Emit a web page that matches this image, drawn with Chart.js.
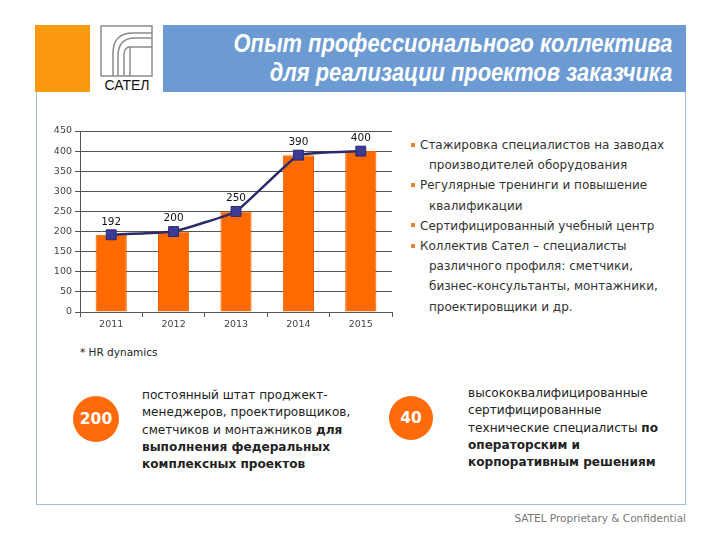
<!DOCTYPE html>
<html>
<head>
<meta charset="utf-8">
<script src="https://cdn.jsdelivr.net/npm/chart.js@4.4.0/dist/chart.umd.min.js"></script>
<style>
  body { margin: 0; width: 720px; height: 540px; background: #fff; position: relative; overflow: hidden; font-family: "DejaVu Sans", Verdana, sans-serif; }
  .abs { position: absolute; }
  #orange { left: 35px; top: 25px; width: 55px; height: 67px; background: #FB9A0E; }
  #band { left: 163px; top: 25px; width: 523px; height: 67px; background: #6B9BD2; }
  #title { right: 48px; top: 29px; text-align: right; color: #fff; font: italic bold 26px/29px "Liberation Sans", sans-serif; white-space: nowrap; transform: scaleX(0.84); transform-origin: right center; }
  #frame { left: 36px; top: 92px; width: 648px; height: 412px; border: 1.5px solid #A3BBE3; border-top: none; }
  #chartBox { left: 40px; top: 121px; width: 360px; height: 209px; }
  #note { left: 80px; top: 346px; font-size: 10.5px; color: #222; }
  #bullets { left: 411px; top: 135px; font-size: 12px; line-height: 20.2px; color: #333; white-space: nowrap; }
  #bullets .b { display: inline-block; width: 4px; height: 4px; background: #F08030; vertical-align: middle; margin-right: 5px; position: relative; top: -1px; }
  #bullets .c { padding-left: 18px; }
  .circle { border-radius: 50%; background: #FF6A0A; color: #fff; font-weight: bold; font-size: 15.5px; display: flex; align-items: center; justify-content: center; }
  .txt { font-size: 12.1px; line-height: 17.3px; color: #222; white-space: nowrap; }
  #footer { right: 34px; top: 512px; font-size: 10.5px; color: #777; }
</style>
</head>
<body>
<div class="abs" id="orange"></div>
<svg class="abs" style="left:98px;top:22px" width="60" height="72" viewBox="98 22 60 72">
  <g fill="none" stroke="#8C8C8C" stroke-width="1.5">
    <rect x="101" y="26" width="51" height="50"/>
    <path d="M152 33 H133 Q113 33 113 53 V76"/>
    <path d="M152 38 H135 Q118 38 118 56 V76"/>
    <path d="M152 47 H130 Q124 47 124 55 V76"/>
    <path d="M130 47 V76"/>
  </g>
  <text x="127" y="90" text-anchor="middle" font-family="Liberation Sans, Arial, sans-serif" font-size="14" fill="#111">САТЕЛ</text>
</svg>
<div class="abs" id="band"></div>
<div class="abs" id="title">Опыт профессионального коллектива<br>для реализации проектов заказчика</div>
<div class="abs" id="frame"></div>

<div class="abs" id="chartBox"><canvas id="chart"></canvas></div>
<div class="abs" id="note">* HR dynamics</div>

<div class="abs" id="bullets">
  <div><span class="b"></span>Стажировка специалистов на заводах</div>
  <div class="c">производителей оборудования</div>
  <div><span class="b"></span>Регулярные тренинги и повышение</div>
  <div class="c">квалификации</div>
  <div><span class="b"></span>Сертифицированный учебный центр</div>
  <div><span class="b"></span>Коллектив Сател – специалисты</div>
  <div class="c">различного профиля: сметчики,</div>
  <div class="c">бизнес-консультанты, монтажники,</div>
  <div class="c">проектировщики и др.</div>
</div>

<div class="abs circle" style="left:73px;top:396px;width:46px;height:46px">200</div>
<div class="abs txt" style="left:142px;top:387px">постоянный штат проджект-<br>менеджеров, проектировщиков,<br>сметчиков и монтажников <b>для</b><br><b>выполнения федеральных</b><br><b>комплексных проектов</b></div>

<div class="abs circle" style="left:389px;top:396px;width:44px;height:44px">40</div>
<div class="abs txt" style="left:468px;top:385px">высококвалифицированные<br>сертифицированные<br>технические специалисты <b>по</b><br><b>операторским и</b><br><b>корпоративным решениям</b></div>

<div class="abs" id="footer">SATEL Proprietary &amp; Confidential</div>

<script>
const years = ['2011', '2012', '2013', '2014', '2015'];
const staff = [192, 200, 250, 390, 400];
const yTicks = [0, 50, 100, 150, 200, 250, 300, 350, 400, 450];

// labels above the line points
const valueLabels = {
  id: 'valueLabels',
  afterDatasetsDraw(chart) {
    const ctx = chart.ctx;
    const meta = chart.getDatasetMeta(1);
    ctx.save();
    ctx.font = '10.5px "DejaVu Sans", sans-serif';
    ctx.fillStyle = '#111';
    ctx.textAlign = 'center';
    ctx.textBaseline = 'middle';
    meta.data.forEach((pt, i) => {
      ctx.fillText(staff[i], pt.x, pt.y - 13);
    });
    ctx.restore();
  }
};

new Chart(document.getElementById('chart'), {
  data: {
    labels: years,
    datasets: [
      {
        type: 'bar',
        data: staff,
        backgroundColor: '#FF6A00',
        borderColor: '#E85F00',
        borderWidth: 1,
        barPercentage: 0.5,
        categoryPercentage: 1,
        order: 2
      },
      {
        type: 'line',
        data: staff,
        borderColor: '#2B2B6B',
        borderWidth: 2.5,
        tension: 0.1,
        pointStyle: 'rect',
        pointRadius: 7,
        pointBackgroundColor: '#3C3C98',
        pointBorderColor: '#2B2B6B',
        pointBorderWidth: 1,
        order: 1
      }
    ]
  },
  options: {
    responsive: true,
    maintainAspectRatio: false,
    animation: false,
    layout: { padding: { top: 10, right: 2, left: 0, bottom: 0 } },
    plugins: { legend: { display: false }, tooltip: { enabled: false } },
    scales: {
      x: {
        grid: { drawOnChartArea: false, drawTicks: true, tickLength: 5, color: '#555' },
        border: { color: '#555' },
        ticks: { font: { size: 9.5, family: 'DejaVu Sans' }, color: '#444', padding: 2 },
        afterFit(s) { s.height = 18; }
      },
      y: {
        min: 0,
        max: 450,
        afterBuildTicks(s) { s.ticks = yTicks.map(v => ({ value: v })); },
        grid: { color: '#555', lineWidth: 1, tickLength: 5 },
        border: { color: '#555' },
        ticks: { font: { size: 9.5, family: 'DejaVu Sans' }, color: '#444', padding: 3 },
        afterFit(s) { s.width = 40; }
      }
    }
  },
  plugins: [valueLabels]
});
</script>
</body>
</html>
